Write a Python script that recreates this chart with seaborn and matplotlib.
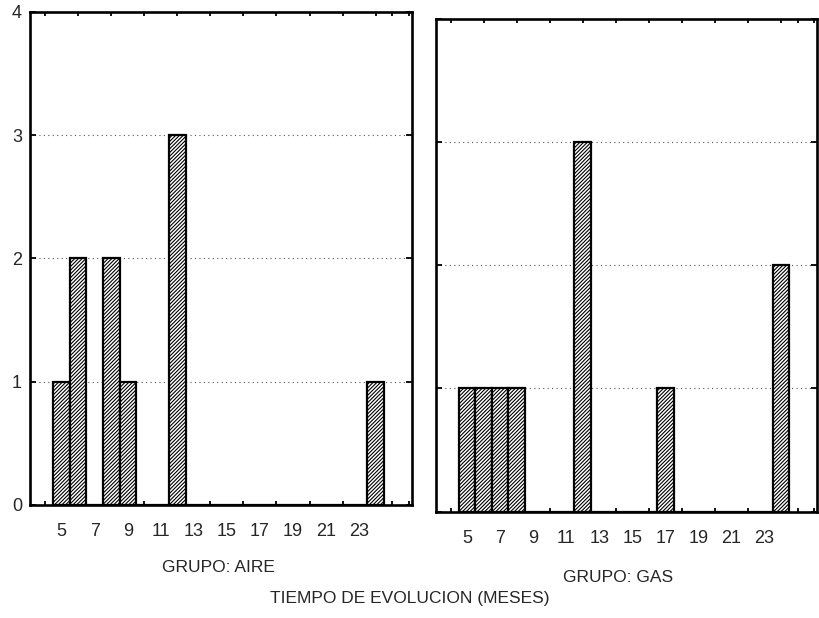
from matplotlib import pyplot as plt
from matplotlib.ticker import MultipleLocator, FixedLocator
import seaborn as sns

import pandas as pd

# months of evolution and number of cases, per group
aire_months = [5, 6, 8, 9, 12, 24]
aire_counts = [1, 2, 2, 1, 3, 1]
gas_months = [5, 6, 7, 8, 12, 17, 24]
gas_counts = [1, 1, 1, 1, 3, 1, 2]

x_ticks = [5, 7, 9, 11, 13, 15, 17, 19, 21, 23]
y_ticks = [0, 1, 2, 3, 4]
group_labels = ["GRUPO: AIRE", "GRUPO: GAS"]
x_title = "TIEMPO DE EVOLUCION (MESES)"

sns.set_style("white")
plt.rcParams["font.family"] = ["Liberation Sans", "DejaVu Sans"]
plt.rcParams["hatch.linewidth"] = 0.8

fig = plt.figure(figsize=(8.19, 6.18), dpi=100)
ax_aire = fig.add_axes([0.037, 0.183, 0.466, 0.798])
ax_gas = fig.add_axes([0.532, 0.172, 0.466, 0.798])

groups = [
    (ax_aire, pd.DataFrame({"mes": aire_months, "n": aire_counts})),
    (ax_gas, pd.DataFrame({"mes": gas_months, "n": gas_counts})),
]

for i, (ax, df) in enumerate(groups):
    sns.histplot(data=df, x="mes", weights="n", discrete=True, ax=ax,
                 color="white", edgecolor="black", linewidth=1.6, alpha=1)
    for p in ax.patches:
        p.set_hatch("/////////")

    ax.set_xlim(3.1, 26.2)
    ax.set_ylim(0, 4)
    ax.xaxis.set_major_locator(FixedLocator(x_ticks))
    ax.xaxis.set_minor_locator(MultipleLocator(1))
    ax.yaxis.set_major_locator(FixedLocator(y_ticks))
    ax.tick_params(axis="both", which="both", direction="in",
                   top=True, right=True, bottom=True, left=True,
                   color="black")
    ax.tick_params(axis="x", which="major", length=0, pad=13, labelsize=13)
    ax.tick_params(axis="x", which="minor", length=3, width=1.3)
    ax.tick_params(axis="y", which="major", length=4, width=1.3,
                   labelsize=13, pad=6)
    for s in ax.spines.values():
        s.set_color("black")
        s.set_linewidth(1.9)

    for y in [1, 2, 3]:
        ax.axhline(y, color="#555555", linestyle=(0, (1, 3)),
                   linewidth=0.8, zorder=0)

    ax.set_xlabel("")
    ax.set_ylabel("")
    if i == 1:
        ax.set_yticklabels([])

fig.text(218 / 819, 1 - 568 / 618, group_labels[0], ha="center",
         va="center", fontsize=12.5)
fig.text(618 / 819, 1 - 577 / 618, group_labels[1], ha="center",
         va="center", fontsize=12.5)
fig.text(410 / 819, 1 - 598 / 618, x_title, ha="center", va="center",
         fontsize=12.5)

plt.savefig("out.png", dpi=100)
